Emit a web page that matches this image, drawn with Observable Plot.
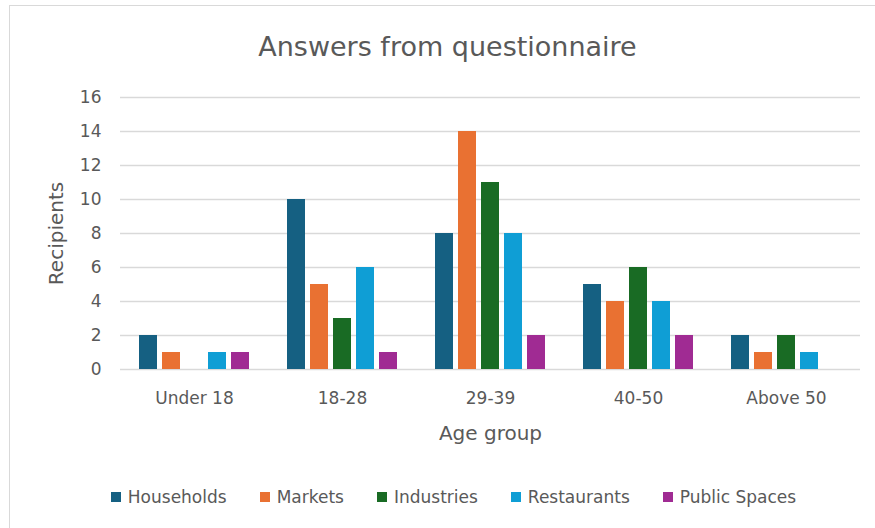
<!DOCTYPE html>
<html>
<head>
<meta charset="utf-8">
<script src="https://cdn.jsdelivr.net/npm/d3@7"></script>
<script src="https://cdn.jsdelivr.net/npm/@observablehq/plot@0.6"></script>
<style>
  html, body { margin: 0; padding: 0; background: #fff; }
  #wrap { position: relative; width: 875px; height: 528px; overflow: hidden; font-family: "DejaVu Sans", sans-serif; color: #595959; }
  #frame { position: absolute; left: 9px; top: 5px; width: 900px; height: 600px; border: 1.5px solid #d9d9d9; box-sizing: border-box; }
  #title { position: absolute; left: 10px; width: 875px; top: 30px; height: 34px; line-height: 34px; text-align: center; font-size: 27px; color: #595959; }
  #grid, #chart { position: absolute; left: 0; top: 75px; }
  #legend { position: absolute; left: 16px; width: 875px; top: 486px; height: 22px; display: flex; justify-content: center; align-items: center; gap: 33px; font-size: 17px; color: #595959; }
  .item { display: flex; align-items: center; gap: 7px; white-space: nowrap; }
  .sw { width: 10px; height: 10px; display: inline-block; }
</style>
</head>
<body>
<div id="wrap">
  <div id="frame"></div>
  <div id="title">Answers from questionnaire</div>
  <div id="grid"></div>
  <div id="chart"></div>
  <div id="legend"></div>
</div>
<script>
const groups = ["Under 18", "18-28", "29-39", "40-50", "Above 50"];
const series = ["Households", "Markets", "Industries", "Restaurants", "Public Spaces"];
const colors = ["#156082", "#E97132", "#196B24", "#0F9ED5", "#A02B93"];
const households  = [2, 10, 8, 5, 2];
const markets     = [1, 5, 14, 4, 1];
const industries  = [0, 3, 11, 6, 2];
const restaurants = [1, 6, 8, 4, 1];
const publicSpaces = [1, 1, 2, 2, 0];
const yTicks = [0, 2, 4, 6, 8, 10, 12, 14, 16];

const valuesBySeries = [households, markets, industries, restaurants, publicSpaces];
const data = [];
groups.forEach((g, gi) => {
  series.forEach((s, si) => {
    data.push({group: g, series: s, value: valuesBySeries[si][gi]});
  });
});

const common = {
  width: 875,
  height: 380,
  marginTop: 22,
  marginBottom: 86,
  marginLeft: 120,
  marginRight: 15,
  style: {fontFamily: "DejaVu Sans, sans-serif", fontSize: "17px", color: "#595959", background: "transparent", overflow: "visible"}
};

// Background: y axis and full-width gridlines
const grid = Plot.plot({
  ...common,
  x: {axis: null},
  y: {domain: [0, 16], ticks: yTicks, tickSize: 0, tickPadding: 19, label: "Recipients", labelAnchor: "center", labelArrow: "none", labelOffset: 72},
  marks: [
    Plot.ruleY(yTicks, {stroke: "#d9d9d9", strokeWidth: 1.5})
  ]
});

// Foreground: grouped bars
const chart = Plot.plot({
  ...common,
  fx: {domain: groups, paddingInner: 0.257, paddingOuter: 0.1285, label: "Age group", labelAnchor: "center", tickSize: 0, tickPadding: 22, labelOffset: 70},
  x: {domain: series, axis: null, paddingInner: 0.227, paddingOuter: 0},
  y: {domain: [0, 16], axis: null},
  color: {domain: series, range: colors},
  marks: [
    Plot.barY(data, {fx: "group", x: "series", y: "value", fill: "series"})
  ]
});

[grid, chart].forEach(svg => {
  svg.querySelectorAll('[aria-label$="axis label"]').forEach(g => {
    g.setAttribute("font-size", "20px");
    g.querySelectorAll("text").forEach(t => t.style.fontSize = "20px");
  });
});
document.getElementById("grid").appendChild(grid);
document.getElementById("chart").appendChild(chart);

const legend = document.getElementById("legend");
series.forEach((s, i) => {
  const item = document.createElement("div");
  item.className = "item";
  const sw = document.createElement("span");
  sw.className = "sw";
  sw.style.background = colors[i];
  const label = document.createElement("span");
  label.textContent = s;
  item.appendChild(sw);
  item.appendChild(label);
  legend.appendChild(item);
});
</script>
</body>
</html>
